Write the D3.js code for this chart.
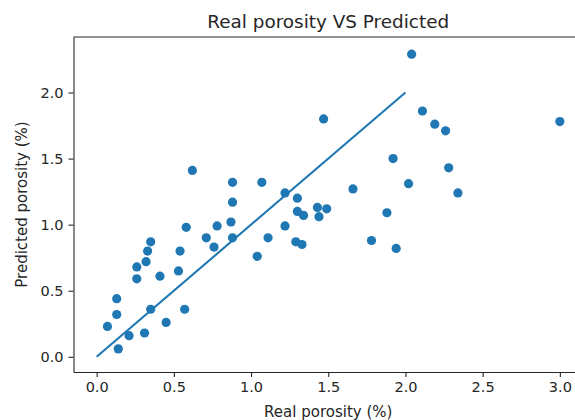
<!DOCTYPE html>
<html>
<head>
<meta charset="utf-8">
<script src="https://cdn.jsdelivr.net/npm/d3@7"></script>
<style>
  body { margin: 0; background: #fff; }
  text { font-family: "DejaVu Sans", sans-serif; fill: #262626; }
</style>
</head>
<body>
<div class="holder"></div>
<script>
// real vs predicted porosity
var realPorosity = [0.62, 0.88, 1.07, 1.22, 1.30, 0.88, 1.43, 1.30, 1.34, 0.87,
  1.44, 0.58, 0.78, 1.22, 1.11, 0.71, 0.88, 0.35, 0.76, 1.29,
  1.33, 0.33, 0.54, 1.04, 0.32, 0.26, 0.26, 0.41, 0.53, 0.13,
  0.13, 0.35, 0.57, 0.07, 0.45, 0.21, 0.31, 0.14, 2.04, 1.47,
  2.11, 2.19, 2.26, 3.00, 1.92, 2.28, 2.02, 2.34, 1.66, 1.49,
  1.88, 1.78, 1.94]
var predictedPorosity = [1.41, 1.32, 1.32, 1.24, 1.20, 1.17, 1.13, 1.10, 1.07, 1.02,
  1.06, 0.98, 0.99, 0.99, 0.90, 0.90, 0.90, 0.87, 0.83, 0.87,
  0.85, 0.80, 0.80, 0.76, 0.72, 0.68, 0.59, 0.61, 0.65, 0.44,
  0.32, 0.36, 0.36, 0.23, 0.26, 0.16, 0.18, 0.06, 2.29, 1.80,
  1.86, 1.76, 1.71, 1.78, 1.50, 1.43, 1.31, 1.24, 1.27, 1.12,
  1.09, 0.88, 0.82]
var lineX = [0, 2]
var lineY = [0, 2]
var xTicks = [0, 0.5, 1, 1.5, 2, 2.5, 3]
var yTicks = [0, 0.5, 1, 1.5, 2]

var width = 575,
    height = 420,
    plotLeft = 73.5, plotRight = 583, plotTop = 37, plotBottom = 372,
    blue = '#1f77b4'

var svg = d3.select('.holder')
  .append('svg')
  .attr('width', width)
  .attr('height', height)

var xScale = d3.scaleLinear()
  .domain([-0.15, 3.15])
  .range([plotLeft, plotRight])

var yScale = d3.scaleLinear()
  .domain([-0.115, 2.42])
  .range([plotBottom, plotTop])

var xAxis = d3.axisBottom(xScale)
  .tickValues(xTicks)
  .tickFormat(d3.format('.1f'))
  .tickSize(5)
  .tickPadding(5)
  .tickSizeOuter(0)

var yAxis = d3.axisLeft(yScale)
  .tickValues(yTicks)
  .tickFormat(d3.format('.1f'))
  .tickSize(5)
  .tickPadding(5)
  .tickSizeOuter(0)

svg.append('g')
  .attr('transform', 'translate(0,' + plotBottom + ')')
  .call(xAxis)

svg.append('g')
  .attr('transform', 'translate(' + plotLeft + ',0)')
  .call(yAxis)

svg.selectAll('.tick text')
  .style('font-size', '14.5px')
  .style('font-family', '"DejaVu Sans", sans-serif')
  .attr('fill', '#262626')
svg.selectAll('.domain, .tick line')
  .attr('stroke', '#262626')
  .attr('stroke-width', 1.1)

// top and right spines
svg.append('line')
  .attr('x1', plotLeft).attr('x2', plotRight)
  .attr('y1', plotTop).attr('y2', plotTop)
  .attr('stroke', '#262626')
  .attr('stroke-width', 1.1)
svg.append('line')
  .attr('x1', plotRight).attr('x2', plotRight)
  .attr('y1', plotTop).attr('y2', plotBottom)
  .attr('stroke', '#262626')
  .attr('stroke-width', 1.1)

var points = realPorosity.map(function(d, i) {
  return { real: d, pred: predictedPorosity[i] }
})

svg.selectAll('.dot')
  .data(points)
  .enter()
  .append('circle')
  .attr('class', 'dot')
  .attr('r', 4.6)
  .attr('cx', function(d) { return xScale(d.real) })
  .attr('cy', function(d) { return yScale(d.pred) })
  .attr('fill', blue)

var line = d3.line()
  .x(function(d) { return xScale(d[0]) })
  .y(function(d) { return yScale(d[1]) })

svg.append('path')
  .datum(lineX.map(function(d, i) { return [d, lineY[i]] }))
  .attr('d', line)
  .attr('fill', 'none')
  .attr('stroke', blue)
  .attr('stroke-width', 2.1)

svg.append('text')
  .attr('x', (plotLeft + plotRight) / 2)
  .attr('y', 28)
  .attr('text-anchor', 'middle')
  .style('font-size', '18.4px')
  .text('Real porosity VS Predicted')

svg.append('text')
  .attr('x', (plotLeft + plotRight) / 2)
  .attr('y', 417)
  .attr('text-anchor', 'middle')
  .style('font-size', '15px')
  .text('Real porosity (%)')

svg.append('text')
  .attr('transform', 'translate(27,' + (plotTop + plotBottom) / 2 + ') rotate(-90)')
  .attr('text-anchor', 'middle')
  .style('font-size', '15px')
  .text('Predicted porosity (%)')
</script>
</body>
</html>
